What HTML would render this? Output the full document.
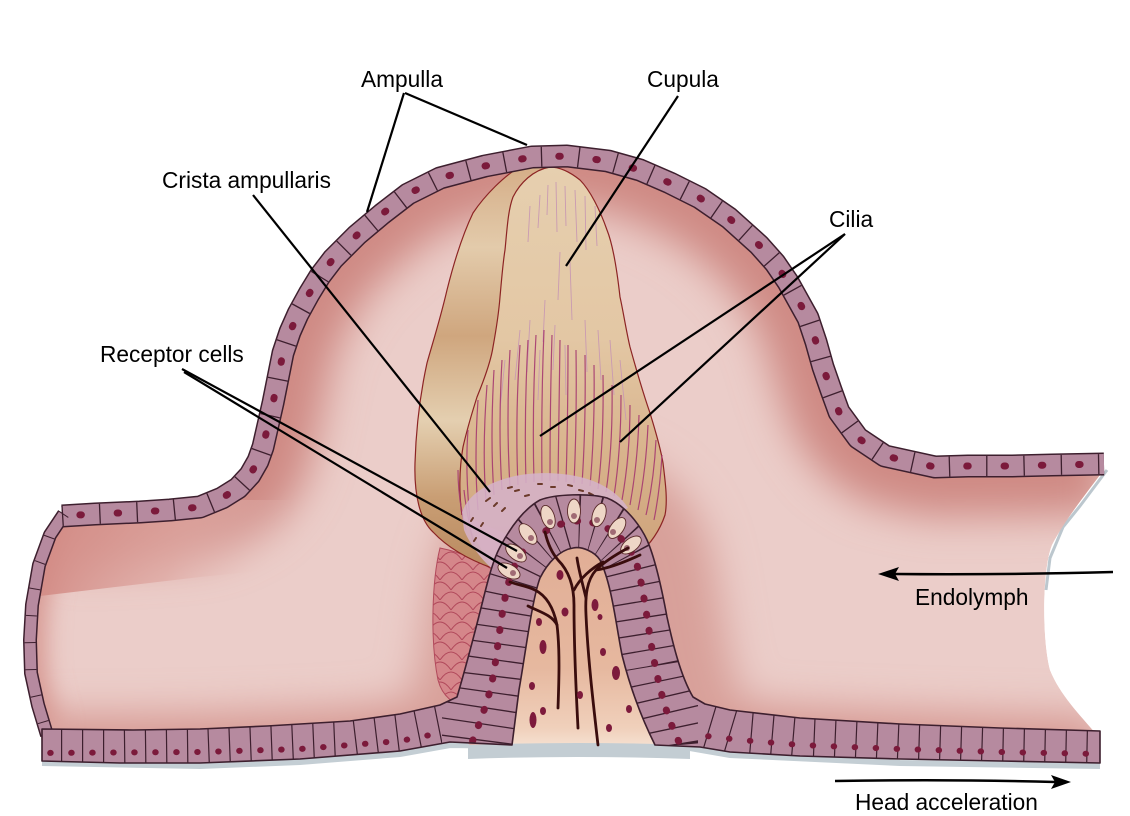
<!DOCTYPE html>
<html><head><meta charset="utf-8"><style>
html,body{margin:0;padding:0;background:#fff;}
svg{display:block;}
text{font-family:"Liberation Sans",Arial,sans-serif;font-size:22.7px;fill:#000;}
</style></head><body>
<svg width="1130" height="816" viewBox="0 0 1130 816" xmlns="http://www.w3.org/2000/svg" xmlns:xlink="http://www.w3.org/1999/xlink">
<defs>
<path id="pD" d="M62,516 L95,514 L140,512 L170,510 L200,507 L222,498 L238,488 L250,475 L258,461 L263,447 L268,425 L273,403 L278,378 L283,353 L290,332 L298,314 L309,294 L320,276 L333,259 L357,235 L382,214 L408,194 L440,178 L485,166 L532,157 L567,156 L608,161 L640,170 L670,183 L700,198 L729,218 L759,245 L775,263 L788,282 L808,318 L816,342 L823,367 L831,390 L839,412 L858,438 L885,456 L935,467 L968,466 L1012,466 L1052,465 L1104,464"/>
<path id="pBL" d="M40,746 L120,746 L200,745 L280,742 L350,739 L400,733 L455,722"/>
<path id="pBLn" d="M40,753 L200,752 L300,749 L400,741 L445,732"/>
<path id="pBR" d="M690,718 L740,733 L800,738 L900,742 L1000,745 L1100,747"/>
<path id="pBRn" d="M698,735 L740,740 L800,745 L900,749 L1000,752 L1100,754"/>
<path id="pC" d="M470,748 C480,720 490,700 495,665 C500,630 503,600 510,578 C520,545 545,525 575,521 C605,520 628,538 637,565 C645,595 648,630 655,665 C662,700 670,725 682,748"/>
<path id="pCx" d="M480,790 L484,745 C487,720 492,695 495,665 C500,630 503,600 510,578 C520,545 545,525 575,521 C605,520 628,538 637,565 C645,595 648,630 655,665 C660,695 668,720 672,745 L676,790"/>
<path id="pR" d="M64,514 L50,535 L39,565 L32,605 L30,640 L31,673 L38,705 L47,735"/>
<path id="bot" d="M42,729 L133,730 L200,729 L267,726 L350,721 L400,714 L440,705 L457,697 C465,670 478,620 483,600 C488,580 493,560 500,547 C508,532 522,510 540,500 C555,494 590,493 607,498 C625,505 640,525 647,540 C655,558 662,590 667,617 C672,640 680,675 693,697 L705,704 L730,710 L800,718 L900,724 L1000,728 L1100,731 L1100,763 L1000,761 L900,759 L800,756 L730,752 L700,747 L655,745 C645,725 632,695 622,655 C616,625 612,585 600,560 C595,552 582,546 573,548 C560,550 548,562 540,578 C532,600 526,650 519,690 L512,745 L450,742 L400,751 L300,759 L200,763 L120,763 L42,761 Z"/>
<path id="int" d="M62,516 L95,514 L140,512 L170,510 L200,507 L222,498 L238,488 L250,475 L258,461 L263,447 L268,425 L273,403 L278,378 L283,353 L290,332 L298,314 L309,294 L320,276 L333,259 L357,235 L382,214 L408,194 L440,178 L485,166 L532,157 L567,156 L608,161 L640,170 L670,183 L700,198 L729,218 L759,245 L775,263 L788,282 L808,318 L816,342 L823,367 L831,390 L839,412 L858,438 L885,456 L935,467 L968,466 L1012,466 L1052,465 L1100,466 L1100,475 C1085,495 1065,520 1052,545 C1042,570 1042,640 1050,670 C1060,695 1080,715 1097,735 L1100,747 L1000,745 L900,742 L800,738 L740,733 L700,727 L680,745 L470,745 L440,723 L400,734 L350,739 L280,742 L200,745 L120,746 L42,746 L38,705 L31,673 L30,640 L32,605 L39,565 L50,535 Z"/>
<clipPath id="clipInt"><use href="#int"/></clipPath>
<clipPath id="clipBot"><use href="#bot"/></clipPath>
<clipPath id="clipL"><rect x="0" y="0" width="442" height="816"/></clipPath>
<clipPath id="clipM"><rect x="442" y="0" width="256" height="816"/></clipPath>
<clipPath id="clipRr"><rect x="698" y="0" width="432" height="816"/></clipPath>
<filter id="blur" filterUnits="userSpaceOnUse" x="0" y="0" width="1130" height="816"><feGaussianBlur stdDeviation="20"/></filter>
<filter id="blur2" filterUnits="userSpaceOnUse" x="0" y="0" width="1130" height="816"><feGaussianBlur stdDeviation="12"/></filter>
<linearGradient id="leftDark" x1="50" y1="520" x2="270" y2="590" gradientUnits="userSpaceOnUse">
<stop offset="0" stop-color="#d28a84" stop-opacity="1"/>
<stop offset="0.55" stop-color="#dea7a1" stop-opacity="0.7"/>
<stop offset="1" stop-color="#ebcdc9" stop-opacity="0"/>
</linearGradient>
<linearGradient id="cupBand" x1="0" y1="167" x2="0" y2="570" gradientUnits="userSpaceOnUse">
<stop offset="0" stop-color="#d5ae88"/>
<stop offset="0.2" stop-color="#e3cbab"/>
<stop offset="0.42" stop-color="#cfa67e"/>
<stop offset="0.63" stop-color="#e4cfb0"/>
<stop offset="0.82" stop-color="#c99e74"/>
<stop offset="1" stop-color="#b98a60"/>
</linearGradient>
<linearGradient id="cupBody" x1="0" y1="167" x2="0" y2="550" gradientUnits="userSpaceOnUse">
<stop offset="0" stop-color="#e6cfaf"/>
<stop offset="0.45" stop-color="#e3c7a4"/>
<stop offset="0.75" stop-color="#d8b38c"/>
<stop offset="1" stop-color="#cfa47c"/>
</linearGradient>
<linearGradient id="core" x1="0" y1="548" x2="0" y2="748" gradientUnits="userSpaceOnUse">
<stop offset="0" stop-color="#e1ae96"/>
<stop offset="0.6" stop-color="#e6b89f"/>
<stop offset="0.9" stop-color="#f0d0bb"/>
<stop offset="1" stop-color="#f6e2d3"/>
</linearGradient>
<pattern id="scales" width="22" height="20" patternUnits="userSpaceOnUse">
<rect width="22" height="20" fill="#d5868a"/>
<path d="M0,20 Q11,4 22,20 M-11,10 Q0,-6 11,10 M11,10 Q22,-6 33,10" fill="none" stroke="#b24a5c" stroke-width="1"/>
</pattern>
</defs>

<rect width="1130" height="816" fill="#fff"/>

<!-- shadows -->
<path d="M42,763 L200,766 L300,762 L400,754 L450,745 L690,748 L730,755 L900,763 L1100,766" fill="none" stroke="#c4ced4" stroke-width="6"/>
<path d="M1107,470 L1080,506 L1063,527 L1050,558 L1046,590" fill="none" stroke="#bcc7ce" stroke-width="3"/>

<!-- interior -->
<g clip-path="url(#clipInt)">
<use href="#int" fill="#ebcdc9"/>
<g filter="url(#blur)" fill="none">
<use href="#pD" stroke="#cf8a84" stroke-width="100"/>
<use href="#pBL" stroke="#d59690" stroke-width="60"/>
<use href="#pBR" stroke="#d59690" stroke-width="60"/>
<use href="#pC" stroke="#d8a09a" stroke-width="150"/>
</g>
<g filter="url(#blur2)" fill="none">
<use href="#pR" stroke="#d6958f" stroke-width="30"/>
</g>
<path d="M28,598 L40,596 L200,577 L290,568 L290,500 L30,500 Z" fill="url(#leftDark)"/>
</g>

<!-- scaly region -->
<path d="M440,548 C432,580 430,640 438,680 C442,695 452,705 470,708 L495,650 L500,575 C480,560 460,552 440,548 Z" fill="url(#scales)" stroke="#b24a5c" stroke-width="1"/>

<!-- cupula -->
<path d="M520,167 C505,175 485,195 473,213 C460,240 452,270 447,290 C440,320 432,345 427,363 C420,395 416,430 415,463 C414,495 420,520 433,532 C448,548 470,560 492,568 L462,515 C459,495 459,470 463,447 C468,425 473,410 477,397 C486,375 491,360 493,347 C497,325 499,310 500,297 C502,275 503,262 505,250 C507,230 508,210 513,197 C520,183 533,170 550,167 Z" fill="url(#cupBand)"/>
<path d="M550,167 C533,170 520,183 513,197 C508,210 507,230 505,250 C503,262 502,275 500,297 C499,310 497,325 493,347 C491,360 486,375 477,397 C473,410 468,425 463,447 C459,470 459,495 462,515 L520,540 L640,552 C650,545 660,530 665,515 C668,500 665,480 663,463 C660,445 655,430 650,413 C642,390 635,365 630,347 C626,330 623,310 620,297 C617,270 613,245 607,230 C600,210 590,190 580,180 C570,172 560,167 550,167 Z" fill="url(#cupBody)"/>
<g fill="none" stroke="#8c2424" stroke-width="1.2">
<path d="M520,167 C505,175 485,195 473,213 C460,240 452,270 447,290 C440,320 432,345 427,363 C420,395 416,430 415,463 C414,495 420,520 433,532 C448,548 470,560 492,568"/>
<path d="M550,167 C533,170 520,183 513,197 C508,210 507,230 505,250 C503,262 502,275 500,297 C499,310 497,325 493,347 C491,360 486,375 477,397 C473,410 468,425 463,447 C459,470 459,495 462,515"/>
<path d="M550,167 C560,167 570,172 580,180 C590,190 600,210 607,230 C613,245 617,270 620,297 C623,310 626,330 630,347 C635,365 642,390 650,413 C655,430 660,445 663,463 C665,480 668,500 665,515 C660,530 650,545 640,552"/>
</g>

<!-- faint cilia upper -->
<g fill="none" stroke="#c99ab2" stroke-width="0.9">
<path d="M548,185 L547,215 M556,182 L557,232 M565,186 L566,226 M575,190 L577,242 M585,196 L586,250 M540,195 L538,228 M530,206 L528,242 M595,206 L597,246 M560,252 L558,300 M570,262 L572,320 M545,300 L543,342 M520,330 L515,380 M530,320 L527,372 M555,325 L553,370 M585,320 L587,372 M598,330 L601,380 M610,340 L614,395 M540,350 L538,400 M505,360 L500,410 M620,360 L626,420 M565,345 L566,395"/>
</g>
<!-- cilia -->
<g fill="none" stroke="#a53a70" stroke-width="1.2" opacity="0.9">
<path d="M470,520 Q465,470 468,430 M478,510 Q474,460 478,400 M486,500 Q482,450 487,385 M494,495 Q490,440 494,370 M502,490 Q498,430 502,360 M510,487 Q506,420 510,350 M518,485 Q515,420 520,345 M526,483 Q524,415 528,340 M534,482 Q532,410 536,335 M542,481 Q541,405 544,330 M550,481 Q550,405 552,335 M558,481 Q559,410 560,340 M566,482 Q568,415 568,345 M574,483 Q577,420 576,350 M582,484 Q586,425 585,355 M590,486 Q595,430 594,365 M598,489 Q604,440 603,375 M606,492 Q613,445 612,385 M614,496 Q621,450 621,395 M622,500 Q630,455 630,405 M630,505 Q638,460 639,415 M638,510 Q646,470 648,425 M646,515 Q654,480 656,440 M654,520 Q660,490 662,455 M466,530 Q458,500 458,470 M474,545 Q466,510 464,490"/>
</g>

<!-- gel -->
<path d="M462,512 C470,492 490,482 515,476 C540,471 575,472 600,484 C612,490 622,498 628,508 L600,520 L530,530 L500,575 C485,565 470,545 464,530 Z" fill="#d5b2c8" opacity="0.88"/>
<g stroke="#6b3a2a" stroke-width="2" stroke-linecap="round">
<path d="M486,501 L490,498 M494,506 L497,503 M502,511 L505,508 M508,488 L512,487 M515,491 L519,490 M525,496 L529,495 M538,484 L542,484 M551,487 L555,487 M568,485 L572,486 M579,490 L583,491 M589,493 L593,495 M471,521 L473,518 M481,526 L483,523 M474,541 L476,538"/>
</g>

<!-- core -->
<path d="M512,748 L519,690 C526,650 532,600 540,578 C548,562 560,550 573,548 C582,546 595,552 600,560 C612,585 616,625 622,655 C632,695 645,725 656,748 Z" fill="url(#core)"/>
<path d="M468,745 Q575,741 690,745 L690,759 Q575,755 468,759 Z" fill="#c3cdd3"/>

<!-- dome band + rim -->
<g fill="none" stroke-linejoin="round">
<use href="#pD" stroke="#3d1f2e" stroke-width="23"/>
<use href="#pR" stroke="#3d1f2e" stroke-width="14"/>
<use href="#pD" stroke="#b68a9f" stroke-width="20"/>
<use href="#pR" stroke="#b68a9f" stroke-width="11"/>
<use href="#pD" stroke="#3d1f2e" stroke-width="20" stroke-dasharray="1.3 36"/>
<use href="#pR" stroke="#3d1f2e" stroke-width="11" stroke-dasharray="1 26"/>
<use href="#pD" stroke="#7b1a3b" stroke-width="7" stroke-linecap="round" stroke-dasharray="1.5 35.8" stroke-dashoffset="-17.9"/>
</g>

<!-- bottom membrane with crista -->
<use href="#bot" fill="#b68a9f"/>
<g clip-path="url(#clipBot)" fill="none">
<g clip-path="url(#clipL)">
<use href="#pBL" stroke="#3d1f2e" stroke-width="60" stroke-dasharray="1.2 19.8"/>
<use href="#pBLn" stroke="#7b1a3b" stroke-width="6" stroke-linecap="round" stroke-dasharray="0.5 20.5" stroke-dashoffset="-10.2"/>
</g>
<g clip-path="url(#clipRr)">
<use href="#pBR" stroke="#3d1f2e" stroke-width="60" stroke-dasharray="1.2 19.8"/>
<use href="#pBRn" stroke="#7b1a3b" stroke-width="6" stroke-linecap="round" stroke-dasharray="0.5 20.5" stroke-dashoffset="-10.2"/>
</g>
<g clip-path="url(#clipM)">
<use href="#pCx" stroke="#3d1f2e" stroke-width="95" stroke-dasharray="1.3 15"/>
<use href="#pC" stroke="#7b1a3b" stroke-width="7" stroke-linecap="round" stroke-dasharray="1 15.3" stroke-dashoffset="-7.6"/>
</g>
</g>
<use href="#bot" fill="none" stroke="#3d1f2e" stroke-width="1.6" stroke-linejoin="round"/>

<!-- hair cells -->
<g fill="#eed6c6" stroke="#5a2a2a" stroke-width="0.9">
<ellipse cx="509" cy="571" rx="6.5" ry="12" transform="rotate(-62 509 571)"/>
<ellipse cx="516" cy="553" rx="6.5" ry="12" transform="rotate(-52 516 553)"/>
<ellipse cx="528" cy="534" rx="6.5" ry="12" transform="rotate(-38 528 534)"/>
<ellipse cx="548" cy="517" rx="6.5" ry="12" transform="rotate(-18 548 517)"/>
<ellipse cx="574" cy="511" rx="6.5" ry="12"/>
<ellipse cx="599" cy="515" rx="6.5" ry="12" transform="rotate(18 599 515)"/>
<ellipse cx="617" cy="528" rx="6.5" ry="12" transform="rotate(36 617 528)"/>
<ellipse cx="631" cy="545" rx="6.5" ry="12" transform="rotate(52 631 545)"/>
</g>
<g fill="#a06a74">
<circle cx="513" cy="573" r="3"/><circle cx="520" cy="556" r="3"/><circle cx="531" cy="538" r="3"/><circle cx="550" cy="522" r="3"/><circle cx="574" cy="516" r="3"/><circle cx="597" cy="520" r="3"/><circle cx="613" cy="532" r="3"/><circle cx="627" cy="548" r="3"/>
</g>

<!-- nerves -->
<g fill="none" stroke="#3a0d0d" stroke-width="2.8" stroke-linecap="round">
<path d="M598,745 C594,710 588,660 586,615 C585,595 587,580 596,570 C604,562 615,555 628,548"/>
<path d="M586,598 C583,585 579,572 577,558"/>
<path d="M596,570 C610,568 625,562 640,555"/>
<path d="M578,728 C576,690 574,640 574,605 C574,585 568,570 558,560 C552,553 548,545 545,532"/>
<path d="M574,590 C580,578 592,568 603,562"/>
<path d="M558,708 C559,680 560,650 557,625 C553,605 545,595 535,590 C527,586 518,585 510,582"/>
<path d="M557,625 C552,615 540,612 528,606"/>
</g>

<!-- blood cells -->
<g fill="#7d1a3c">
<ellipse cx="560" cy="575" rx="3.5" ry="5"/>
<ellipse cx="565" cy="612" rx="3.5" ry="4.5"/>
<ellipse cx="539" cy="622" rx="3" ry="4"/>
<ellipse cx="543" cy="647" rx="3.5" ry="7"/>
<ellipse cx="595" cy="605" rx="3.5" ry="6"/>
<ellipse cx="600" cy="617" rx="2.5" ry="3"/>
<ellipse cx="603" cy="652" rx="3" ry="4"/>
<ellipse cx="616" cy="673" rx="4" ry="7"/>
<ellipse cx="532" cy="686" rx="3" ry="4"/>
<ellipse cx="580" cy="695" rx="3" ry="4"/>
<ellipse cx="543" cy="711" rx="3" ry="4"/>
<ellipse cx="533" cy="720" rx="3.5" ry="8"/>
<ellipse cx="629" cy="709" rx="3" ry="4"/>
<ellipse cx="609" cy="728" rx="3" ry="4"/>
</g>

<!-- leader lines -->
<g fill="none" stroke="#000" stroke-width="2.2">
<path d="M404,93 L367,212"/>
<path d="M405,93 L527,145"/>
<path d="M678,96 L566,266"/>
<path d="M253,195 L490,492"/>
<path d="M845,234 L540,436"/>
<path d="M845,234 L620,442"/>
<path d="M182,369 L517,551"/>
<path d="M184,372 L507,568"/>
<path d="M1113,572 Q1000,575 895,574" stroke-width="2.5"/>
<path d="M835,781 Q950,779 1055,782" stroke-width="2.5"/>
</g>
<path d="M878,574 L899,567 L895,574 L899,581 Z" fill="#000"/>
<path d="M1071,782 L1051,775 L1055,782 L1051,789 Z" fill="#000"/>

<!-- labels -->
<text x="361" y="87">Ampulla</text>
<text x="647" y="87">Cupula</text>
<text x="162" y="188">Crista ampullaris</text>
<text x="829" y="227">Cilia</text>
<text x="100" y="362">Receptor cells</text>
<text x="915" y="605">Endolymph</text>
<text x="855" y="810">Head acceleration</text>
</svg>
</body></html>
